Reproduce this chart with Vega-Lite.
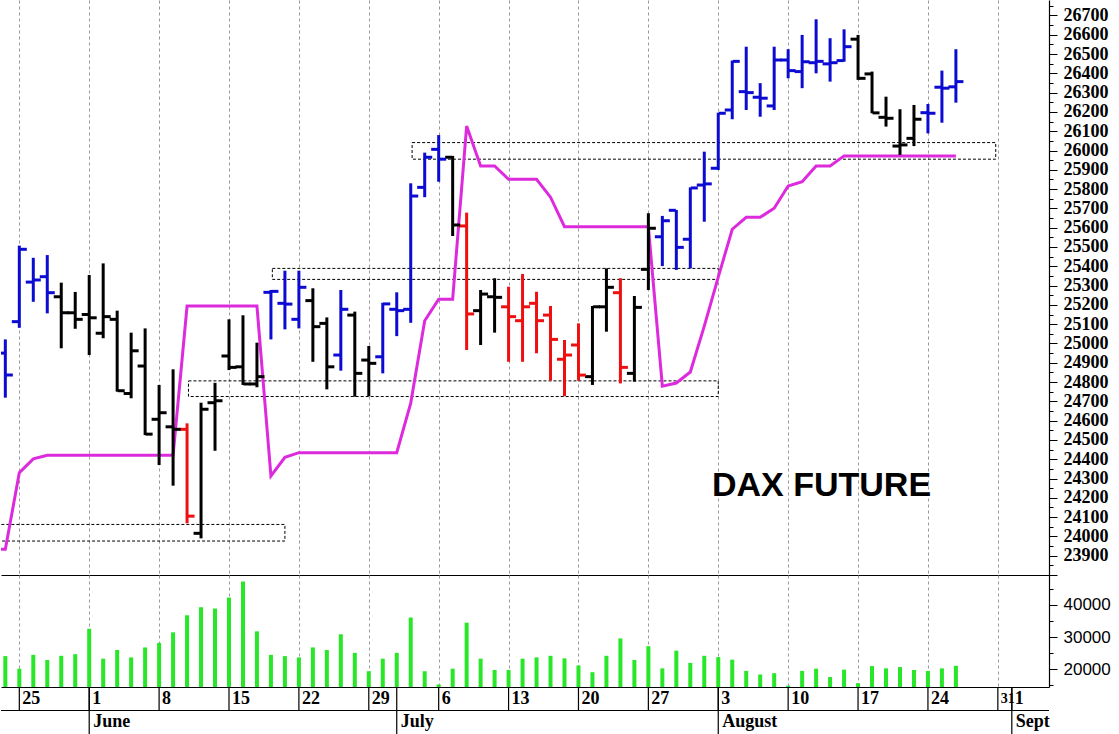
{
  "$schema": "https://vega.github.io/schema/vega-lite/v6.json",
  "padding": 0,
  "background": "white",
  "spacing": 0,
  "bounds": "flush",
  "config": {"view": {"stroke": null}},
  "resolve": {"scale": {"x": "independent", "y": "independent"}, "axis": {"x": "independent", "y": "independent"}},
  "datasets": {
    "bars": [
      {"i":-1,"date":"2026-05-22","trend":"up","open":24950,"high":25021,"low":24719,"close":24836,"volume":24100},
      {"i":0,"date":"2026-05-25","trend":"up","open":25113,"high":25507,"low":25081,"close":25488,"volume":20200},
      {"i":1,"date":"2026-05-26","trend":"up","open":25318,"high":25444,"low":25216,"close":25329,"volume":24500},
      {"i":2,"date":"2026-05-27","trend":"up","open":25346,"high":25458,"low":25156,"close":25263,"volume":22900},
      {"i":3,"date":"2026-05-28","trend":"flat","open":25242,"high":25315,"low":24975,"close":25159,"volume":24200},
      {"i":4,"date":"2026-05-29","trend":"flat","open":25159,"high":25267,"low":25076,"close":25125,"volume":24700},
      {"i":5,"date":"2026-06-01","trend":"flat","open":25150,"high":25355,"low":24940,"close":25133,"volume":32600},
      {"i":6,"date":"2026-06-02","trend":"flat","open":25053,"high":25415,"low":25027,"close":25139,"volume":23300},
      {"i":7,"date":"2026-06-03","trend":"flat","open":25125,"high":25170,"low":24750,"close":24755,"volume":26000},
      {"i":8,"date":"2026-06-04","trend":"flat","open":24741,"high":25056,"low":24716,"close":24962,"volume":23700},
      {"i":9,"date":"2026-06-05","trend":"flat","open":24883,"high":25078,"low":24525,"close":24530,"volume":26800},
      {"i":10,"date":"2026-06-08","trend":"flat","open":24607,"high":24785,"low":24370,"close":24641,"volume":28200},
      {"i":11,"date":"2026-06-09","trend":"flat","open":24568,"high":24866,"low":24263,"close":24555,"volume":31500},
      {"i":12,"date":"2026-06-10","trend":"down","open":24555,"high":24586,"low":24068,"close":24105,"volume":36800},
      {"i":13,"date":"2026-06-11","trend":"flat","open":24016,"high":24693,"low":23990,"close":24659,"volume":39300},
      {"i":14,"date":"2026-06-12","trend":"flat","open":24693,"high":24796,"low":24444,"close":24703,"volume":38900},
      {"i":15,"date":"2026-06-15","trend":"flat","open":24935,"high":25125,"low":24862,"close":24876,"volume":42300},
      {"i":16,"date":"2026-06-16","trend":"flat","open":24879,"high":25146,"low":24785,"close":24790,"volume":47300},
      {"i":17,"date":"2026-06-17","trend":"flat","open":24790,"high":25004,"low":24773,"close":24828,"volume":31800},
      {"i":18,"date":"2026-06-18","trend":"up","open":25265,"high":25277,"low":25021,"close":25270,"volume":24500},
      {"i":19,"date":"2026-06-19","trend":"up","open":25208,"high":25377,"low":25073,"close":25204,"volume":24100},
      {"i":20,"date":"2026-06-22","trend":"up","open":25125,"high":25377,"low":25078,"close":25291,"volume":23700},
      {"i":21,"date":"2026-06-23","trend":"flat","open":25222,"high":25286,"low":24905,"close":25087,"volume":26800},
      {"i":22,"date":"2026-06-24","trend":"flat","open":25104,"high":25135,"low":24762,"close":24879,"volume":26000},
      {"i":23,"date":"2026-06-25","trend":"up","open":24940,"high":25277,"low":24859,"close":25177,"volume":30900},
      {"i":24,"date":"2026-06-26","trend":"flat","open":25147,"high":25165,"low":24724,"close":24845,"volume":25100},
      {"i":25,"date":"2026-06-29","trend":"flat","open":24914,"high":24987,"low":24727,"close":24897,"volume":19400},
      {"i":26,"date":"2026-06-30","trend":"up","open":24931,"high":25211,"low":24845,"close":25205,"volume":23300},
      {"i":27,"date":"2026-07-01","trend":"up","open":25177,"high":25265,"low":25038,"close":25170,"volume":25100},
      {"i":28,"date":"2026-07-02","trend":"up","open":25177,"high":25830,"low":25107,"close":25764,"volume":36100},
      {"i":29,"date":"2026-07-03","trend":"up","open":25809,"high":25989,"low":25758,"close":25965,"volume":19400},
      {"i":30,"date":"2026-07-06","trend":"up","open":26006,"high":26080,"low":25838,"close":25955,"volume":15300},
      {"i":31,"date":"2026-07-07","trend":"flat","open":25965,"high":25972,"low":25557,"close":25614,"volume":20200},
      {"i":32,"date":"2026-07-08","trend":"down","open":25609,"high":25678,"low":24966,"close":25153,"volume":34500},
      {"i":33,"date":"2026-07-09","trend":"flat","open":25170,"high":25277,"low":24992,"close":25256,"volume":23300},
      {"i":34,"date":"2026-07-10","trend":"flat","open":25242,"high":25338,"low":25056,"close":25239,"volume":19800},
      {"i":35,"date":"2026-07-13","trend":"down","open":25190,"high":25294,"low":24905,"close":25139,"volume":19800},
      {"i":36,"date":"2026-07-14","trend":"down","open":25118,"high":25360,"low":24905,"close":25190,"volume":23300},
      {"i":37,"date":"2026-07-15","trend":"down","open":25208,"high":25268,"low":24949,"close":25118,"volume":23700},
      {"i":38,"date":"2026-07-16","trend":"down","open":25147,"high":25194,"low":24807,"close":25021,"volume":24200},
      {"i":39,"date":"2026-07-17","trend":"down","open":24918,"high":25018,"low":24727,"close":24940,"volume":23400},
      {"i":40,"date":"2026-07-20","trend":"down","open":24992,"high":25104,"low":24807,"close":24836,"volume":21200},
      {"i":41,"date":"2026-07-21","trend":"flat","open":24828,"high":25194,"low":24785,"close":25190,"volume":19100},
      {"i":42,"date":"2026-07-22","trend":"flat","open":25190,"high":25389,"low":25061,"close":25291,"volume":24200},
      {"i":43,"date":"2026-07-23","trend":"down","open":25263,"high":25338,"low":24793,"close":24876,"volume":29600},
      {"i":44,"date":"2026-07-24","trend":"flat","open":24845,"high":25246,"low":24802,"close":25187,"volume":22900},
      {"i":45,"date":"2026-07-27","trend":"flat","open":25384,"high":25675,"low":25277,"close":25597,"volume":27200},
      {"i":46,"date":"2026-07-28","trend":"up","open":25553,"high":25661,"low":25401,"close":25636,"volume":20300},
      {"i":47,"date":"2026-07-29","trend":"up","open":25690,"high":25692,"low":25381,"close":25498,"volume":25800},
      {"i":48,"date":"2026-07-30","trend":"up","open":25540,"high":25809,"low":25389,"close":25806,"volume":22000},
      {"i":49,"date":"2026-07-31","trend":"up","open":25821,"high":25994,"low":25631,"close":25827,"volume":24200},
      {"i":50,"date":"2026-08-03","trend":"up","open":25908,"high":26196,"low":25899,"close":26193,"volume":23800},
      {"i":51,"date":"2026-08-04","trend":"up","open":26210,"high":26466,"low":26162,"close":26462,"volume":23000},
      {"i":52,"date":"2026-08-05","trend":"up","open":26305,"high":26538,"low":26210,"close":26300,"volume":19500},
      {"i":53,"date":"2026-08-06","trend":"up","open":26276,"high":26349,"low":26175,"close":26271,"volume":18400},
      {"i":54,"date":"2026-08-07","trend":"up","open":26231,"high":26538,"low":26210,"close":26469,"volume":18800},
      {"i":55,"date":"2026-08-10","trend":"up","open":26469,"high":26525,"low":26374,"close":26414,"volume":14900},
      {"i":56,"date":"2026-08-11","trend":"up","open":26409,"high":26599,"low":26323,"close":26460,"volume":19500},
      {"i":57,"date":"2026-08-12","trend":"up","open":26455,"high":26680,"low":26400,"close":26462,"volume":20200},
      {"i":58,"date":"2026-08-13","trend":"up","open":26449,"high":26582,"low":26357,"close":26455,"volume":17600},
      {"i":59,"date":"2026-08-14","trend":"up","open":26466,"high":26628,"low":26460,"close":26538,"volume":19900},
      {"i":60,"date":"2026-08-17","trend":"flat","open":26577,"high":26599,"low":26366,"close":26374,"volume":15700},
      {"i":61,"date":"2026-08-18","trend":"flat","open":26397,"high":26409,"low":26193,"close":26195,"volume":21000},
      {"i":62,"date":"2026-08-19","trend":"flat","open":26172,"high":26279,"low":26124,"close":26167,"volume":20300},
      {"i":63,"date":"2026-08-20","trend":"flat","open":26023,"high":26214,"low":25977,"close":26029,"volume":20700},
      {"i":64,"date":"2026-08-21","trend":"flat","open":26063,"high":26236,"low":26023,"close":26162,"volume":19800},
      {"i":65,"date":"2026-08-24","trend":"up","open":26196,"high":26241,"low":26089,"close":26193,"volume":19500},
      {"i":66,"date":"2026-08-25","trend":"up","open":26328,"high":26414,"low":26144,"close":26323,"volume":20300},
      {"i":67,"date":"2026-08-26","trend":"up","open":26330,"high":26525,"low":26248,"close":26357,"volume":21100}
    ],
    "stop": [
      {"i":-2,"value":23933},{"i":-1,"value":23933},{"i":0,"value":24330},{"i":1,"value":24402},{"i":2,"value":24420},
      {"i":3,"value":24420},{"i":4,"value":24420},{"i":5,"value":24420},{"i":6,"value":24420},{"i":7,"value":24420},
      {"i":8,"value":24420},{"i":9,"value":24420},{"i":10,"value":24420},{"i":11,"value":24420},{"i":12,"value":25194},
      {"i":13,"value":25194},{"i":14,"value":25194},{"i":15,"value":25194},{"i":16,"value":25194},{"i":17,"value":25194},
      {"i":18,"value":24313},{"i":19,"value":24410},{"i":20,"value":24434},{"i":21,"value":24434},{"i":22,"value":24434},
      {"i":23,"value":24434},{"i":24,"value":24434},{"i":25,"value":24434},{"i":26,"value":24434},{"i":27,"value":24434},
      {"i":28,"value":24691},{"i":29,"value":25118},{"i":30,"value":25229},{"i":31,"value":25229},{"i":32,"value":26127},
      {"i":33,"value":25920},{"i":34,"value":25920},{"i":35,"value":25851},{"i":36,"value":25851},{"i":37,"value":25851},
      {"i":38,"value":25758},{"i":39,"value":25605},{"i":40,"value":25605},{"i":41,"value":25605},{"i":42,"value":25605},
      {"i":43,"value":25605},{"i":44,"value":25605},{"i":45,"value":25605},{"i":46,"value":24779},{"i":47,"value":24795},
      {"i":48,"value":24852},{"i":49,"value":25090},{"i":50,"value":25344},{"i":51,"value":25592},{"i":52,"value":25654},
      {"i":53,"value":25654},{"i":54,"value":25701},{"i":55,"value":25816},{"i":56,"value":25838},{"i":57,"value":25920},
      {"i":58,"value":25920},{"i":59,"value":25972},{"i":60,"value":25972},{"i":61,"value":25972},{"i":62,"value":25972},
      {"i":63,"value":25972},{"i":64,"value":25972},{"i":65,"value":25972},{"i":66,"value":25972},{"i":67,"value":25972}
    ],
    "zones": [
      {"i":-2,"end":19,"top":24062,"bottom":23976},
      {"i":12.1,"end":50,"top":24806,"bottom":24725},
      {"i":18.1,"end":50,"top":25389,"bottom":25332},
      {"i":28.1,"end":69.85,"top":26041,"bottom":25955}
    ],
    "title": [{"i":49.55,"price":24261,"label":"DAX FUTURE"}],
    "days": [
      {"i":0,"label":"25"},{"i":5,"label":"1"},{"i":10,"label":"8"},{"i":15,"label":"15"},{"i":20,"label":"22"},
      {"i":25,"label":"29"},{"i":30,"label":"6"},{"i":35,"label":"13"},{"i":40,"label":"20"},{"i":45,"label":"27"},
      {"i":50,"label":"3"},{"i":55,"label":"10"},{"i":60,"label":"17"},{"i":65,"label":"24"},{"i":70,"label":"31"},
      {"i":71,"label":"1"}
    ],
    "months": [
      {"i":5,"label":"June"},{"i":27,"label":"July"},{"i":50,"label":"August"},{"i":71,"label":"Sept"}
    ]
  },
  "vconcat": [
    {
      "width": 1048,
      "height": 575,
      "encoding": {
        "x": {"field": "i", "type": "quantitative",
          "scale": {"domain": [-1.31, 73.66], "nice": false, "zero": false},
          "axis": {"orient": "bottom", "values": [0,5,10,15,20,25,30,35,40,45,50,55,60,65,70], "labels": false, "ticks": false, "domain": true, "domainColor": "#000000", "domainWidth": 1.2, "grid": true, "gridColor": "#9a9a9a", "gridDash": [3,3], "gridWidth": 1, "title": null}}
      },
      "layer": [
        {
          "data": {"name": "zones"},
          "mark": {"type": "rect", "filled": false, "color": "#000000", "strokeDash": [3,2], "strokeWidth": 1, "clip": true},
          "encoding": {
            "x2": {"field": "end"},
            "y": {"field": "top", "type": "quantitative", "scale": {"domain": [23800, 26780], "nice": false, "zero": false},
              "axis": {"orient": "right", "title": null, "grid": false, "format": "d",
                "values": [23800,23850,23900,23950,24000,24050,24100,24150,24200,24250,24300,24350,24400,24450,24500,24550,24600,24650,24700,24750,24800,24850,24900,24950,25000,25050,25100,25150,25200,25250,25300,25350,25400,25450,25500,25550,25600,25650,25700,25750,25800,25850,25900,25950,26000,26050,26100,26150,26200,26250,26300,26350,26400,26450,26500,26550,26600,26650,26700,26750],
                "labelExpr": "(datum.value % 100 === 0 && datum.value >= 23900 && datum.value <= 26700) ? datum.label : ''",
                "tickSize": {"condition": {"test": "datum.value % 100 === 0", "value": 8}, "value": 4},
                "labelFontSize": {"condition": {"test": "datum.value % 100 === 0 && datum.value >= 23900 && datum.value <= 26700", "value": 18}, "value": 1},
                "tickColor": "#000000", "domainColor": "#000000", "domainWidth": 1.2,
                "labelFont": "Liberation Serif", "labelFontWeight": "bold", "labelColor": "#000000",
                "labelPadding": 6, "labelOverlap": false, "labelFlush": false, "labelBound": false}},
            "y2": {"field": "bottom"}
          }
        },
        {
          "data": {"name": "stop"},
          "mark": {"type": "line", "color": "#dd2add", "strokeWidth": 3, "clip": true},
          "encoding": {
            "y": {"field": "value", "type": "quantitative", "scale": {"domain": [23800, 26780], "nice": false, "zero": false},
              "axis": {"orient": "right", "title": null, "grid": false, "format": "d",
                "values": [23800,23850,23900,23950,24000,24050,24100,24150,24200,24250,24300,24350,24400,24450,24500,24550,24600,24650,24700,24750,24800,24850,24900,24950,25000,25050,25100,25150,25200,25250,25300,25350,25400,25450,25500,25550,25600,25650,25700,25750,25800,25850,25900,25950,26000,26050,26100,26150,26200,26250,26300,26350,26400,26450,26500,26550,26600,26650,26700,26750],
                "labelExpr": "(datum.value % 100 === 0 && datum.value >= 23900 && datum.value <= 26700) ? datum.label : ''",
                "tickSize": {"condition": {"test": "datum.value % 100 === 0", "value": 8}, "value": 4},
                "labelFontSize": {"condition": {"test": "datum.value % 100 === 0 && datum.value >= 23900 && datum.value <= 26700", "value": 18}, "value": 1},
                "tickColor": "#000000", "domainColor": "#000000", "domainWidth": 1.2,
                "labelFont": "Liberation Serif", "labelFontWeight": "bold", "labelColor": "#000000",
                "labelPadding": 6, "labelOverlap": false, "labelFlush": false, "labelBound": false}}
          }
        },
        {
          "data": {"name": "bars"},
          "mark": {"type": "rule", "strokeWidth": 3, "clip": true},
          "encoding": {
            "y": {"field": "low", "type": "quantitative", "scale": {"domain": [23800, 26780], "nice": false, "zero": false},
              "axis": {"orient": "right", "title": null, "grid": false, "format": "d",
                "values": [23800,23850,23900,23950,24000,24050,24100,24150,24200,24250,24300,24350,24400,24450,24500,24550,24600,24650,24700,24750,24800,24850,24900,24950,25000,25050,25100,25150,25200,25250,25300,25350,25400,25450,25500,25550,25600,25650,25700,25750,25800,25850,25900,25950,26000,26050,26100,26150,26200,26250,26300,26350,26400,26450,26500,26550,26600,26650,26700,26750],
                "labelExpr": "(datum.value % 100 === 0 && datum.value >= 23900 && datum.value <= 26700) ? datum.label : ''",
                "tickSize": {"condition": {"test": "datum.value % 100 === 0", "value": 8}, "value": 4},
                "labelFontSize": {"condition": {"test": "datum.value % 100 === 0 && datum.value >= 23900 && datum.value <= 26700", "value": 18}, "value": 1},
                "tickColor": "#000000", "domainColor": "#000000", "domainWidth": 1.2,
                "labelFont": "Liberation Serif", "labelFontWeight": "bold", "labelColor": "#000000",
                "labelPadding": 6, "labelOverlap": false, "labelFlush": false, "labelBound": false}},
            "y2": {"field": "high"},
            "color": {"field": "trend", "type": "nominal", "scale": {"domain": ["up","flat","down"], "range": ["#0b0bd2","#000000","#ee1010"]}, "legend": null}
          }
        },
        {
          "data": {"name": "bars"},
          "mark": {"type": "tick", "orient": "horizontal", "size": 7, "thickness": 3, "xOffset": -4, "opacity": 1, "clip": true},
          "encoding": {
            "y": {"field": "open", "type": "quantitative", "scale": {"domain": [23800, 26780], "nice": false, "zero": false},
              "axis": {"orient": "right", "title": null, "grid": false, "format": "d",
                "values": [23800,23850,23900,23950,24000,24050,24100,24150,24200,24250,24300,24350,24400,24450,24500,24550,24600,24650,24700,24750,24800,24850,24900,24950,25000,25050,25100,25150,25200,25250,25300,25350,25400,25450,25500,25550,25600,25650,25700,25750,25800,25850,25900,25950,26000,26050,26100,26150,26200,26250,26300,26350,26400,26450,26500,26550,26600,26650,26700,26750],
                "labelExpr": "(datum.value % 100 === 0 && datum.value >= 23900 && datum.value <= 26700) ? datum.label : ''",
                "tickSize": {"condition": {"test": "datum.value % 100 === 0", "value": 8}, "value": 4},
                "labelFontSize": {"condition": {"test": "datum.value % 100 === 0 && datum.value >= 23900 && datum.value <= 26700", "value": 18}, "value": 1},
                "tickColor": "#000000", "domainColor": "#000000", "domainWidth": 1.2,
                "labelFont": "Liberation Serif", "labelFontWeight": "bold", "labelColor": "#000000",
                "labelPadding": 6, "labelOverlap": false, "labelFlush": false, "labelBound": false}},
            "color": {"field": "trend", "type": "nominal", "scale": {"domain": ["up","flat","down"], "range": ["#0b0bd2","#000000","#ee1010"]}, "legend": null}
          }
        },
        {
          "data": {"name": "bars"},
          "mark": {"type": "tick", "orient": "horizontal", "size": 7, "thickness": 3, "xOffset": 4, "opacity": 1, "clip": true},
          "encoding": {
            "y": {"field": "close", "type": "quantitative", "scale": {"domain": [23800, 26780], "nice": false, "zero": false},
              "axis": {"orient": "right", "title": null, "grid": false, "format": "d",
                "values": [23800,23850,23900,23950,24000,24050,24100,24150,24200,24250,24300,24350,24400,24450,24500,24550,24600,24650,24700,24750,24800,24850,24900,24950,25000,25050,25100,25150,25200,25250,25300,25350,25400,25450,25500,25550,25600,25650,25700,25750,25800,25850,25900,25950,26000,26050,26100,26150,26200,26250,26300,26350,26400,26450,26500,26550,26600,26650,26700,26750],
                "labelExpr": "(datum.value % 100 === 0 && datum.value >= 23900 && datum.value <= 26700) ? datum.label : ''",
                "tickSize": {"condition": {"test": "datum.value % 100 === 0", "value": 8}, "value": 4},
                "labelFontSize": {"condition": {"test": "datum.value % 100 === 0 && datum.value >= 23900 && datum.value <= 26700", "value": 18}, "value": 1},
                "tickColor": "#000000", "domainColor": "#000000", "domainWidth": 1.2,
                "labelFont": "Liberation Serif", "labelFontWeight": "bold", "labelColor": "#000000",
                "labelPadding": 6, "labelOverlap": false, "labelFlush": false, "labelBound": false}},
            "color": {"field": "trend", "type": "nominal", "scale": {"domain": ["up","flat","down"], "range": ["#0b0bd2","#000000","#ee1010"]}, "legend": null}
          }
        },
        {
          "data": {"name": "title"},
          "mark": {"type": "text", "align": "left", "baseline": "middle", "font": "Liberation Sans", "fontWeight": "bold", "fontSize": 34, "color": "#000000"},
          "encoding": {
            "y": {"field": "price", "type": "quantitative", "scale": {"domain": [23800, 26780], "nice": false, "zero": false},
              "axis": {"orient": "right", "title": null, "grid": false, "format": "d",
                "values": [23800,23850,23900,23950,24000,24050,24100,24150,24200,24250,24300,24350,24400,24450,24500,24550,24600,24650,24700,24750,24800,24850,24900,24950,25000,25050,25100,25150,25200,25250,25300,25350,25400,25450,25500,25550,25600,25650,25700,25750,25800,25850,25900,25950,26000,26050,26100,26150,26200,26250,26300,26350,26400,26450,26500,26550,26600,26650,26700,26750],
                "labelExpr": "(datum.value % 100 === 0 && datum.value >= 23900 && datum.value <= 26700) ? datum.label : ''",
                "tickSize": {"condition": {"test": "datum.value % 100 === 0", "value": 8}, "value": 4},
                "labelFontSize": {"condition": {"test": "datum.value % 100 === 0 && datum.value >= 23900 && datum.value <= 26700", "value": 18}, "value": 1},
                "tickColor": "#000000", "domainColor": "#000000", "domainWidth": 1.2,
                "labelFont": "Liberation Serif", "labelFontWeight": "bold", "labelColor": "#000000",
                "labelPadding": 6, "labelOverlap": false, "labelFlush": false, "labelBound": false}},
            "text": {"field": "label"}
          }
        }
      ]
    },
    {
      "width": 1048,
      "height": 112,
      "data": {"name": "bars"},
      "mark": {"type": "rule", "color": "#28e628", "strokeWidth": 4, "clip": true},
      "encoding": {
        "x": {"field": "i", "type": "quantitative",
          "scale": {"domain": [-1.31, 73.66], "nice": false, "zero": false},
          "axis": {"orient": "bottom", "values": [0,5,10,15,20,25,30,35,40,45,50,55,60,65,70], "labels": false, "ticks": false, "domain": true, "domainColor": "#000000", "domainWidth": 1.2, "grid": true, "gridColor": "#9a9a9a", "gridDash": [3,3], "gridWidth": 1, "title": null}},
        "y": {"field": "volume", "type": "quantitative", "scale": {"domain": [14500, 49320], "nice": false, "zero": false},
          "axis": {"orient": "right", "title": null, "grid": false, "format": "d",
            "values": [15000,20000,25000,30000,35000,40000,45000],
            "labelExpr": "datum.value % 10000 === 0 ? datum.label : ''",
            "tickSize": {"condition": {"test": "datum.value % 10000 === 0", "value": 8}, "value": 4},
            "labelFontSize": {"condition": {"test": "datum.value % 10000 === 0", "value": 17}, "value": 1},
            "tickColor": "#000000", "domainColor": "#000000", "domainWidth": 1.2,
            "labelFont": "Liberation Sans", "labelColor": "#000000",
            "labelPadding": 6, "labelOverlap": false, "labelFlush": false, "labelBound": false}},
        "y2": {"datum": 14500}
      }
    },
    {
      "width": 1048,
      "height": 47,
      "layer": [
        {
          "data": {"values": [{"row": "split"}]},
          "mark": {"type": "rule", "color": "#000000", "strokeWidth": 1.2},
          "encoding": {
            "y": {"datum": 1, "type": "quantitative", "scale": {"domain": [0, 2], "nice": false, "zero": false}, "axis": null}
          }
        },
        {
          "data": {"name": "days"},
          "mark": {"type": "rule", "color": "#000000", "strokeWidth": 1.2},
          "encoding": {
            "x": {"field": "i", "type": "quantitative", "scale": {"domain": [-1.31, 73.66], "nice": false, "zero": false}, "axis": null},
            "y": {"datum": 1, "type": "quantitative", "scale": {"domain": [0, 2], "nice": false, "zero": false}, "axis": null},
            "y2": {"datum": 2}
          }
        },
        {
          "data": {"name": "months"},
          "mark": {"type": "rule", "color": "#000000", "strokeWidth": 1.2},
          "encoding": {
            "x": {"field": "i", "type": "quantitative", "scale": {"domain": [-1.31, 73.66], "nice": false, "zero": false}, "axis": null},
            "y": {"datum": 0, "type": "quantitative", "scale": {"domain": [0, 2], "nice": false, "zero": false}, "axis": null},
            "y2": {"datum": 2}
          }
        },
        {
          "data": {"name": "days"},
          "mark": {"type": "text", "align": "left", "baseline": "middle", "dx": 3, "font": "Liberation Serif", "fontWeight": "bold", "color": "#000000"},
          "encoding": {
            "x": {"field": "i", "type": "quantitative", "scale": {"domain": [-1.31, 73.66], "nice": false, "zero": false}, "axis": null},
            "y": {"datum": 1.5, "type": "quantitative", "scale": {"domain": [0, 2], "nice": false, "zero": false}, "axis": null},
            "size": {"condition": {"test": "datum.i === 70", "value": 14}, "value": 18},
            "text": {"field": "label"}
          }
        },
        {
          "data": {"name": "months"},
          "mark": {"type": "text", "align": "left", "baseline": "middle", "dx": 4, "font": "Liberation Serif", "fontWeight": "bold", "fontSize": 18, "color": "#000000"},
          "encoding": {
            "x": {"field": "i", "type": "quantitative", "scale": {"domain": [-1.31, 73.66], "nice": false, "zero": false}, "axis": null},
            "y": {"datum": 0.5, "type": "quantitative", "scale": {"domain": [0, 2], "nice": false, "zero": false}, "axis": null},
            "text": {"field": "label"}
          }
        }
      ]
    }
  ]
}
